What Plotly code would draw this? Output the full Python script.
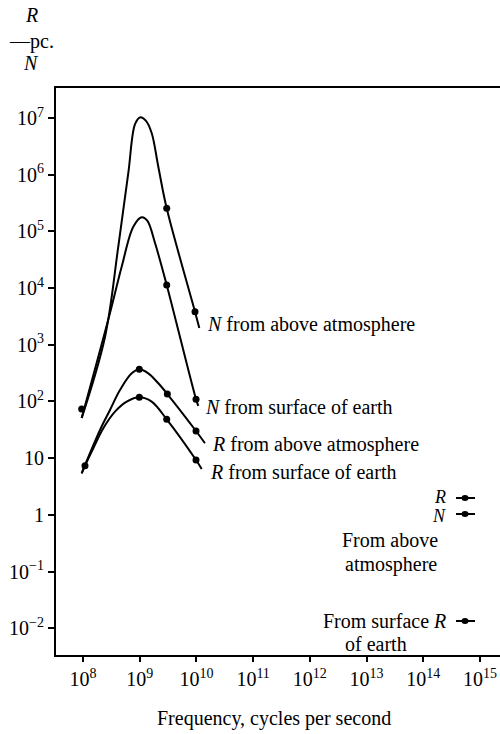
import numpy as np
import plotly.graph_objects as go

# ---- data (log10 of frequency, log10 of value) ----
n_above_logf = [7.977, 8.388, 8.622, 8.799, 8.917, 9.005, 9.111, 9.211, 9.328, 9.476, 9.975, 10.051]
n_above_logv = [1.709, 3.138, 4.730, 6.030, 6.890, 7.010, 6.950, 6.735, 6.141, 5.407, 3.584, 3.296]

n_surf_logf = [7.977, 8.476, 8.682, 8.887, 9.035, 9.134, 9.270, 9.476, 9.993, 10.033]
n_surf_logv = [1.709, 3.561, 4.377, 5.083, 5.250, 5.190, 4.795, 4.055, 2.039, 1.921]

r_above_logf = [7.977, 8.300, 8.476, 8.652, 8.859, 8.993, 9.151, 9.328, 9.487, 9.993, 10.151]
r_above_logv = [0.734, 1.497, 1.850, 2.203, 2.497, 2.568, 2.497, 2.321, 2.132, 1.480, 1.263]

r_surf_logf = [7.977, 8.035, 8.182, 8.358, 8.564, 8.771, 8.993, 9.211, 9.476, 9.993, 10.093]
r_surf_logv = [0.734, 0.868, 1.175, 1.527, 1.820, 1.997, 2.074, 1.997, 1.686, 0.968, 0.810]

# measured points (dots)
dot_logf = [7.977, 9.476, 9.975, 9.476, 9.993, 8.035, 8.993, 9.487, 9.993, 8.993, 9.476, 9.993]
dot_logv = [1.868, 5.407, 3.584, 4.055, 2.039, 0.868, 2.568, 2.132, 1.480, 2.074, 1.686, 0.968]

x_tick_exp = [8, 9, 10, 11, 12, 13, 14, 15]
y_tick_exp = [7, 6, 5, 4, 3, 2, 1, 0, -1, -2]
y_tick_text = ["10<sup>7</sup>", "10<sup>6</sup>", "10<sup>5</sup>", "10<sup>4</sup>",
               "10<sup>3</sup>", "10<sup>2</sup>", "10", "1",
               "10<sup>\u22121</sup>", "10<sup>\u22122</sup>"]
x_tick_text = ["10<sup>%d</sup>" % e for e in x_tick_exp]

curve_labels = ["<i>N</i> from above atmosphere", "<i>N</i> from surface of earth",
                "<i>R</i> from above atmosphere", "<i>R</i> from surface of earth"]

FONT = "Liberation Serif"
W_FIG, H_FIG = 500, 734
L, T, W, H = 56, 88, 444, 567


def px(x):
    return (x - L) / W


def py(y):
    return 1 - (y - T) / H


fig = go.Figure()
for lf, lv in [(n_above_logf, n_above_logv), (n_surf_logf, n_surf_logv),
               (r_above_logf, r_above_logv), (r_surf_logf, r_surf_logv)]:
    fig.add_trace(go.Scatter(
        x=10 ** np.array(lf), y=10 ** np.array(lv), mode="lines",
        line=dict(color="black", width=2, shape="spline", smoothing=1.0),
        hoverinfo="skip", showlegend=False))

fig.add_trace(go.Scatter(
    x=10 ** np.array(dot_logf), y=10 ** np.array(dot_logv), mode="markers",
    marker=dict(color="black", size=7), showlegend=False, hoverinfo="skip"))

annotations = []
# curve labels
for text, (x, y) in zip(curve_labels, [(205, 325), (203, 407), (210, 444), (208, 472)]):
    annotations.append(dict(text=text, x=px(x), y=py(y), xref="paper", yref="paper",
                            xanchor="left", yanchor="middle", showarrow=False,
                            font=dict(family=FONT, size=20, color="black")))

# y axis title (R/N - pc.)
for text, x, y in [("<i>R</i>", 31, 15), ("\u2014pc.", 31, 42), ("<i>N</i>", 31, 63)]:
    annotations.append(dict(text=text, x=px(x), y=py(y), xref="paper", yref="paper",
                            xanchor="center", yanchor="middle", showarrow=False,
                            font=dict(family=FONT, size=20, color="black")))

# x axis title
annotations.append(dict(text="Frequency, cycles per second", x=px(274), y=py(718),
                        xref="paper", yref="paper", xanchor="center", yanchor="middle",
                        showarrow=False, font=dict(family=FONT, size=20, color="black")))

# key block
key_items = [("<i>R</i>", 448, 497, "right", 18), ("<i>N</i>", 448, 516, "right", 18),
             ("From above", 390, 540, "center", 20), ("atmosphere", 391, 564, "center", 20),
             ("From surface <i>R</i>", 448, 621, "right", 20), ("of earth", 343, 644, "left", 20)]
for text, x, y, anchor, size in key_items:
    annotations.append(dict(text=text, x=px(x), y=py(y), xref="paper", yref="paper",
                            xanchor=anchor, yanchor="middle", showarrow=False,
                            font=dict(family=FONT, size=size, color="black")))

shapes = []
for ky in [498, 514, 621]:
    shapes.append(dict(type="line", xref="paper", yref="paper",
                       x0=px(456), x1=px(475), y0=py(ky), y1=py(ky),
                       line=dict(color="black", width=2)))
    shapes.append(dict(type="circle", xref="paper", yref="paper",
                       x0=px(461.5), x1=px(468.5), y0=py(ky - 3), y1=py(ky + 3),
                       fillcolor="black", line=dict(color="black", width=0)))

fig.update_layout(
    width=W_FIG, height=H_FIG,
    margin=dict(l=L, r=W_FIG - L - W, t=T, b=H_FIG - T - H),
    paper_bgcolor="white", plot_bgcolor="white",
    showlegend=False,
    annotations=annotations, shapes=shapes,
    xaxis=dict(type="log", range=[7.524, 15.353],
               tickvals=[10.0 ** e for e in x_tick_exp], ticktext=x_tick_text,
               ticks="outside", ticklen=5, tickwidth=1.5, tickcolor="black",
               showline=True, linecolor="black", linewidth=2, mirror=True,
               showgrid=False, zeroline=False,
               tickfont=dict(family=FONT, size=20, color="black")),
    yaxis=dict(type="log", range=[-2.471, 7.529],
               tickvals=[10.0 ** e for e in y_tick_exp], ticktext=y_tick_text,
               ticks="outside", ticklen=6, tickwidth=1.5, tickcolor="black",
               showline=True, linecolor="black", linewidth=2,
               showgrid=False, zeroline=False,
               tickfont=dict(family=FONT, size=20, color="black")),
)

fig.write_html("out.html")
